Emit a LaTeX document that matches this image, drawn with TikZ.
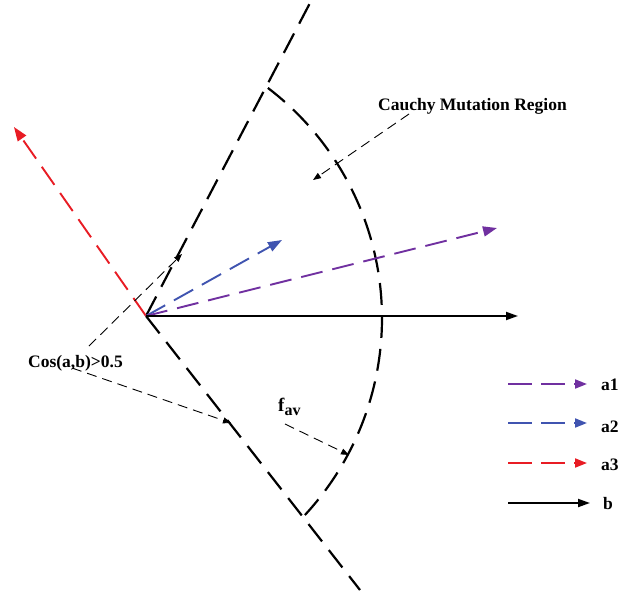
\documentclass[tikz,border=0pt]{standalone}
\usepackage{fontspec}
\setmainfont{Liberation Serif}
\usetikzlibrary{arrows.meta}
\definecolor{apurple}{RGB}{112,48,160}
\definecolor{ablue}{RGB}{64,84,176}
\definecolor{ared}{RGB}{232,28,36}
\begin{document}
\begin{tikzpicture}[x=1pt,y=-1pt,
  bound/.style={line width=2.2pt,dash pattern=on 22pt off 11pt},
  vec/.style={line width=1.9pt,dash pattern=on 22pt off 10pt,-{Triangle[length=14pt,width=10pt]}},
  solidvec/.style={line width=1.9pt,-{Triangle[length=12pt,width=8pt]}},
  pointer/.style={line width=0.9pt,dash pattern=on 10pt off 6pt,-{Triangle[length=8pt,width=6pt]}},
  lbl/.style={font=\fontsize{17.5}{20}\selectfont\bfseries,inner sep=0pt}]
\useasboundingbox (0,0) rectangle (624,595);
% main points
\coordinate (O) at (146,316);
\coordinate (U) at (310,3);
\coordinate (L) at (360,590);
\coordinate (C) at (92.4,318.3);
\coordinate (A1) at (497,228);
\coordinate (A2) at (282,240);
\coordinate (A3) at (14,127);
\coordinate (B) at (518,316);
% boundary lines and arc
\draw[bound] (O) -- (U);
\draw[bound] (O) -- (L);
\draw[bound] ([shift={(-52.7:289.6)}]C) arc[start angle=-52.7,end angle=42.8,radius=289.6];
% vectors
\draw[vec,ared] (O) -- (A3);
\draw[vec,ablue] (O) -- (A2);
\draw[vec,apurple] (O) -- (A1);
\draw[solidvec] (O) -- (B);
% labels
\node[lbl,anchor=base west] (cos) at (28,367) {Cos(a,b)>0.5};
\node[lbl,anchor=base west] (fav) at (278,411) {\fontsize{19}{20}\selectfont f\raisebox{-4pt}{\fontsize{16}{18}\selectfont av}};
\node[lbl,anchor=base west] (cmr) at (378,110) {Cauchy Mutation Region};
% pointer arrows
\coordinate (p1s) at (89,346);
\coordinate (p1e) at (182,254);
\coordinate (p2s) at (72,368);
\coordinate (p2e) at (231,423);
\coordinate (p3s) at (285,424);
\coordinate (p3e) at (349,455);
\coordinate (p4s) at (409,114);
\coordinate (p4e) at (313,180);
\draw[pointer] (p1s) -- (p1e);
\draw[pointer] (p2s) -- (p2e);
\draw[pointer] (p3s) -- (p3e);
\draw[pointer] (p4s) -- (p4e);
% legend
\coordinate (l1s) at (508,384); \coordinate (l1e) at (587,384);
\coordinate (l2s) at (508,423); \coordinate (l2e) at (587,423);
\coordinate (l3s) at (508,463); \coordinate (l3e) at (587,463);
\coordinate (l4s) at (508,503); \coordinate (l4e) at (590,503);
\draw[line width=1.9pt,dash pattern=on 24pt off 9pt,apurple,-{Triangle[length=12pt,width=9pt]}] (l1s) -- (l1e);
\draw[line width=1.9pt,dash pattern=on 24pt off 9pt,ablue,-{Triangle[length=12pt,width=9pt]}] (l2s) -- (l2e);
\draw[line width=1.9pt,dash pattern=on 24pt off 9pt,ared,-{Triangle[length=12pt,width=9pt]}] (l3s) -- (l3e);
\draw[solidvec] (l4s) -- (l4e);
\node[lbl,anchor=base west] (la1) at (601,390) {a1};
\node[lbl,anchor=base west] (la2) at (601,432) {a2};
\node[lbl,anchor=base west] (la3) at (601,470) {a3};
\node[lbl,anchor=base west] (lb) at (603,509) {b};
\end{tikzpicture}
\end{document}
